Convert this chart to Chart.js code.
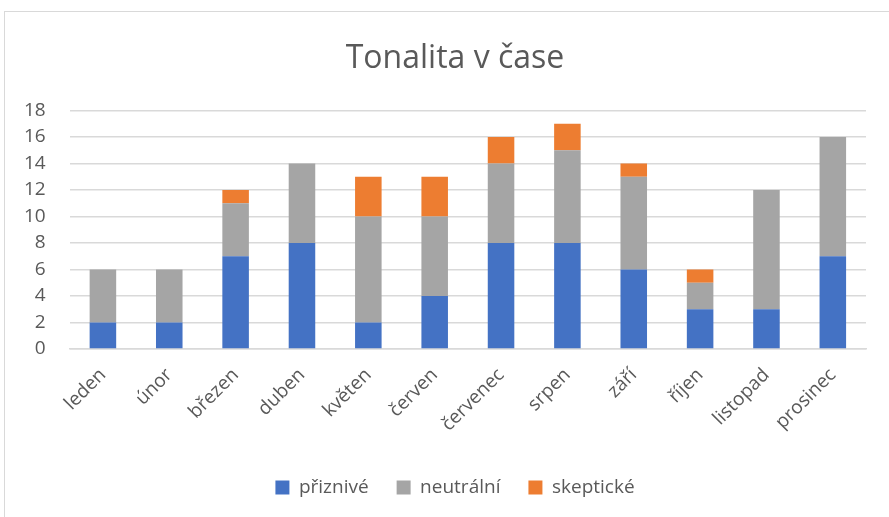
<!DOCTYPE html>
<html>
<head>
<meta charset="utf-8">
<script src="https://cdn.jsdelivr.net/npm/chart.js@4/dist/chart.umd.min.js"></script>
<style>
  html, body { margin: 0; padding: 0; background: #fff; overflow: hidden; }
  #frame { position: absolute; left: 4px; top: 11px; width: 900px; height: 520px; border: 1px solid #d9d9d9; }
  #wrap { position: absolute; left: 0; top: 0; width: 889px; height: 517px; }
</style>
</head>
<body>
<div id="frame"></div>
<div id="wrap"><canvas id="chart"></canvas></div>
<script>
// mesíce a hodnoty
const months = ['leden', 'únor', 'březen', 'duben', 'květen', 'červen', 'červenec', 'srpen', 'září', 'říjen', 'listopad', 'prosinec'];
const positive = [2, 2, 7, 8, 2, 4, 8, 8, 6, 3, 3, 7];
const neutral = [4, 4, 4, 6, 8, 6, 6, 7, 7, 2, 9, 9];
const skeptic = [0, 0, 1, 0, 3, 3, 2, 2, 1, 1, 0, 0];
const yTicks = [0, 2, 4, 6, 8, 10, 12, 14, 16, 18];

const textColor = '#595959';
const gridColor = '#d9d9d9';
const font = "'Open Sans', 'Liberation Sans', sans-serif";

// Excel centruje nadpis a legendu na celý rámeček grafu, ne na plochu
const shiftCenter = {
    id: 'shiftCenter',
    afterLayout(chart) {
        const dx = 22;
        chart.titleBlock.left += dx;
        chart.titleBlock.right += dx;
        chart.legend.left += dx;
        chart.legend.right += dx;
    }
};

const ctx = document.getElementById('chart').getContext('2d');
new Chart(ctx, {
    type: 'bar',
    data: {
        labels: months,
        datasets: [
            { label: 'přiznivé', data: positive, backgroundColor: '#4472c4' },
            { label: 'neutrální', data: neutral, backgroundColor: '#a5a5a5' },
            { label: 'skeptické', data: skeptic, backgroundColor: '#ed7d31' }
        ]
    },
    plugins: [shiftCenter],
    options: {
        responsive: true,
        maintainAspectRatio: false,
        animation: false,
        layout: { padding: { left: 0, right: 23, top: 30, bottom: 10 } },
        datasets: { bar: { categoryPercentage: 1, barPercentage: 0.4, borderWidth: 0 } },
        plugins: {
            title: {
                display: true,
                text: 'Tonalita v čase',
                color: textColor,
                font: { family: font, size: 32, weight: 'normal' },
                padding: { top: 10, bottom: 32 }
            },
            legend: {
                position: 'bottom',
                labels: {
                    color: textColor,
                    font: { family: font, size: 19 },
                    boxWidth: 14,
                    boxHeight: 14,
                    padding: 28
                }
            },
            tooltip: { enabled: false }
        },
        scales: {
            x: {
                stacked: true,
                grid: { display: false },
                border: { color: gridColor, width: 1.5 },
                ticks: {
                    color: textColor,
                    font: { family: font, size: 19 },
                    minRotation: 45,
                    maxRotation: 45,
                    padding: 7
                },
                afterFit: s => { s.height += 7; }
            },
            y: {
                stacked: true,
                min: 0,
                max: yTicks[yTicks.length - 1],
                afterBuildTicks: axis => { axis.ticks = yTicks.map(v => ({ value: v })); },
                grid: { color: gridColor, lineWidth: 1.5, drawTicks: false },
                border: { display: false },
                ticks: {
                    color: textColor,
                    font: { family: font, size: 19 },
                    padding: 24,
                    autoSkip: false
                }
            }
        }
    }
});
</script>
</body>
</html>
